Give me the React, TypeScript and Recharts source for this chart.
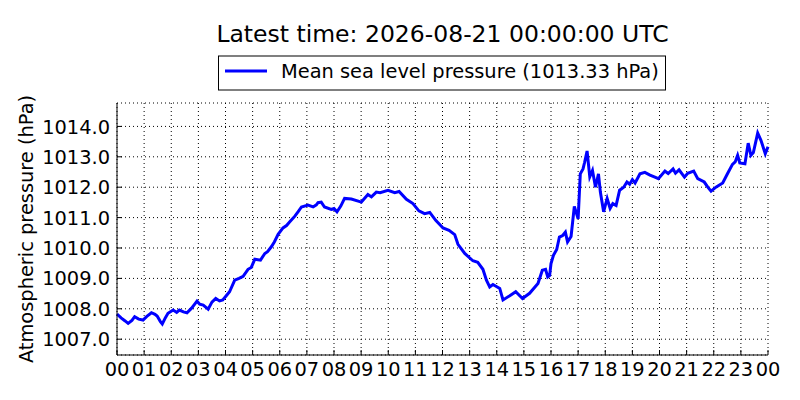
import React from 'react'
import { LineChart, Line, XAxis, YAxis, CartesianGrid } from 'recharts'

// hours since 00 UTC
const hours = [
  0.0, 0.15, 0.3, 0.41, 0.55, 0.65, 0.8, 0.96, 1.1, 1.27, 1.4, 1.48, 1.6, 1.67, 1.78, 1.88,
  2.07, 2.2, 2.3, 2.45, 2.58, 2.75, 2.95, 3.05, 3.18, 3.36, 3.5, 3.64, 3.78, 3.9, 4.02, 4.15,
  4.34, 4.5, 4.65, 4.83, 4.95, 5.08, 5.29, 5.45, 5.55, 5.69, 5.8, 5.94, 6.12, 6.25, 6.37, 6.55,
  6.68, 6.8, 7.04, 7.23, 7.35, 7.41, 7.53, 7.65, 7.9, 8.0, 8.11, 8.25, 8.39, 8.64, 9.01, 9.25,
  9.38, 9.56, 9.7, 9.99, 10.24, 10.4, 10.67, 10.91, 11.13, 11.34, 11.53, 11.75, 12.02, 12.24,
  12.45, 12.57, 12.82, 13.12, 13.3, 13.49, 13.62, 13.74, 13.86, 14.11, 14.23, 14.48, 14.7,
  14.95, 15.21, 15.52, 15.68, 15.8, 15.88, 15.95, 16.0, 16.09, 16.21, 16.31, 16.43, 16.53,
  16.61, 16.74, 16.86, 17.0, 17.08, 17.18, 17.24, 17.33, 17.43, 17.53, 17.64, 17.75, 17.82,
  17.94, 18.07, 18.18, 18.28, 18.4, 18.53, 18.68, 18.8, 18.9, 19.0, 19.1, 19.28, 19.46, 19.65,
  19.83, 19.96, 20.2, 20.32, 20.5, 20.59, 20.72, 20.92, 21.04, 21.26, 21.41, 21.65, 21.78,
  21.9, 22.08, 22.33, 22.51, 22.69, 22.79, 22.88, 22.96, 23.15, 23.27, 23.37, 23.46, 23.62,
  23.74, 23.9, 24.0,
]

// mean sea level pressure, hPa
const pressure = [
  1007.83, 1007.7, 1007.6, 1007.52, 1007.62, 1007.74, 1007.66, 1007.63, 1007.75, 1007.87,
  1007.82, 1007.76, 1007.58, 1007.5, 1007.7, 1007.85, 1007.96, 1007.88, 1007.96, 1007.9,
  1007.87, 1008.02, 1008.25, 1008.15, 1008.12, 1007.99, 1008.22, 1008.34, 1008.26, 1008.29,
  1008.42, 1008.56, 1008.94, 1009.0, 1009.07, 1009.3, 1009.36, 1009.63, 1009.6, 1009.82,
  1009.88, 1010.04, 1010.2, 1010.45, 1010.66, 1010.74, 1010.86, 1011.04, 1011.2, 1011.35,
  1011.41, 1011.35, 1011.42, 1011.49, 1011.51, 1011.35, 1011.27, 1011.3, 1011.19, 1011.38,
  1011.63, 1011.61, 1011.51, 1011.76, 1011.68, 1011.84, 1011.82, 1011.9, 1011.82, 1011.86,
  1011.6, 1011.46, 1011.22, 1011.13, 1011.17, 1010.91, 1010.66, 1010.58, 1010.44, 1010.12,
  1009.82, 1009.58, 1009.53, 1009.3, 1008.94, 1008.72, 1008.8, 1008.67, 1008.29, 1008.43,
  1008.56, 1008.34, 1008.51, 1008.83, 1009.27, 1009.3, 1009.05, 1009.1, 1009.49, 1009.76,
  1009.95, 1010.36, 1010.41, 1010.52, 1010.2, 1010.38, 1011.37, 1010.96, 1012.44, 1012.6,
  1012.82, 1013.19, 1012.34, 1012.55, 1012.0, 1012.44, 1011.84, 1011.19, 1011.63, 1011.3,
  1011.46, 1011.4, 1011.9, 1012.0, 1012.17, 1012.1, 1012.25, 1012.14, 1012.44, 1012.49,
  1012.4, 1012.33, 1012.28, 1012.53, 1012.45, 1012.6, 1012.46, 1012.57, 1012.33, 1012.46,
  1012.53, 1012.28, 1012.17, 1012.0, 1011.87, 1012.0, 1012.14, 1012.45, 1012.75, 1012.83,
  1013.05, 1012.8, 1012.77, 1013.45, 1013.05, 1013.14, 1013.78, 1013.54, 1013.1, 1013.33,
]

const hourTicks = [0, 1, 2, 3, 4, 5, 6, 7, 8, 9, 10, 11, 12, 13, 14, 15, 16, 17, 18, 19, 20, 21, 22, 23, 24]
const hourLabels = ['00', '01', '02', '03', '04', '05', '06', '07', '08', '09', '10', '11', '12',
  '13', '14', '15', '16', '17', '18', '19', '20', '21', '22', '23', '00']
const pressureTicks = [1007, 1008, 1009, 1010, 1011, 1012, 1013, 1014]
const pressureDomain = [1006.48, 1014.77]

const latestTime = '2026-08-21 00:00:00 UTC'
const latestValue = 1013.33

const font = '"DejaVu Sans", sans-serif'
const blue = '#0000ff'
const tickSize = 19.4

function HourTick(props: any) {
  const { x, y, payload } = props
  return (
    <text x={x} y={y + 14.8} textAnchor="middle" fontSize={tickSize} fontFamily={font} fill="#000">
      {hourLabels[hourTicks.indexOf(payload.value)] ?? ''}
    </text>
  )
}

function PressureTick(props: any) {
  const { x, y, payload } = props
  return (
    <text x={x} y={y + 7.1} textAnchor="end" fontSize={tickSize} fontFamily={font} fill="#000">
      {Number(payload.value).toFixed(1)}
    </text>
  )
}

export default function App() {
  const data = hours.map((t, i) => ({ t, p: pressure[i] }))

  return (
    <div style={{ position: 'absolute', left: 0, top: 0, width: 800, height: 400, background: '#fff', fontFamily: font }}>
      <LineChart width={800} height={400} data={data} margin={{ top: 103, right: 32, bottom: 5, left: 0 }}>
        <CartesianGrid stroke="#000" strokeDasharray="1 3" />
        <XAxis
          dataKey="t"
          type="number"
          domain={[0, 24]}
          ticks={hourTicks}
          interval={0}
          height={40}
          tickSize={-5}
          tickMargin={11}
          stroke="#000"
          tick={<HourTick />}
        />
        <XAxis
          xAxisId="top"
          orientation="top"
          dataKey="t"
          type="number"
          domain={[0, 24]}
          ticks={hourTicks}
          interval={0}
          height={0}
          tickSize={-5}
          tick={false}
          stroke="#000"
        />
        <YAxis
          type="number"
          domain={pressureDomain}
          allowDataOverflow
          ticks={pressureTicks}
          interval={0}
          width={117}
          tickSize={-5}
          tickMargin={12}
          stroke="#000"
          tick={<PressureTick />}
        />
        <YAxis
          yAxisId="right"
          orientation="right"
          type="number"
          domain={pressureDomain}
          allowDataOverflow
          ticks={pressureTicks}
          interval={0}
          width={0}
          tickSize={-5}
          tick={false}
          stroke="#000"
        />
        <Line
          type="linear"
          dataKey="p"
          stroke={blue}
          strokeWidth={3}
          dot={false}
          isAnimationActive={false}
        />
        <Line
          xAxisId="top"
          yAxisId="right"
          type="linear"
          dataKey="p"
          stroke="none"
          dot={false}
          legendType="none"
          isAnimationActive={false}
        />
      </LineChart>
      <svg width={800} height={400} style={{ position: 'absolute', left: 0, top: 0, pointerEvents: 'none' }}>
        <text x={442.5} y={42} textAnchor="middle" fontSize={23.5} fontFamily={font} fill="#000">
          Latest time: {latestTime}
        </text>
        <rect x={218.5} y={56} width={447} height={34} fill="#fff" stroke="#000" strokeWidth={1} />
        <line x1={225} y1={71} x2={267} y2={71} stroke={blue} strokeWidth={3} />
        <text x={281} y={77.5} fontSize={19.4} fontFamily={font} fill="#000">
          Mean sea level pressure ({latestValue.toFixed(2)} hPa)
        </text>
        <text transform="translate(33,229) rotate(-90)" textAnchor="middle" fontSize={19.4} fontFamily={font} fill="#000">
          Atmospheric pressure (hPa)
        </text>
      </svg>
    </div>
  )
}
